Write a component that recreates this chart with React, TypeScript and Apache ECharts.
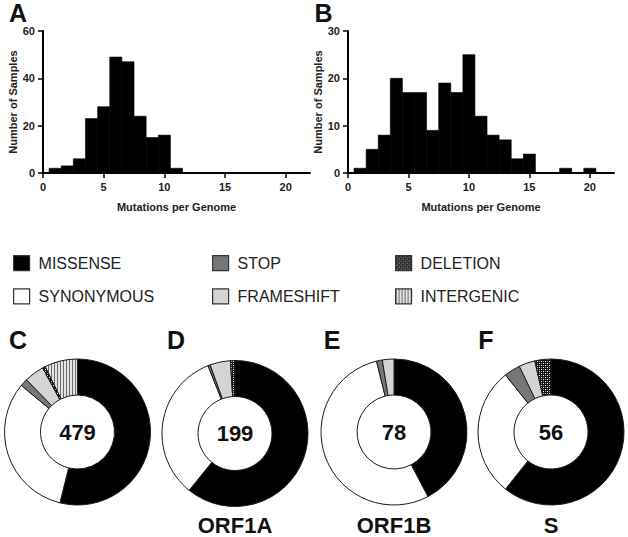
import React, { useEffect, useRef } from 'react';
import * as echarts from 'echarts';

// Histogram A
const binsA = [1, 2, 3, 4, 5, 6, 7, 8, 9, 10, 11];
const countsA = [2, 3, 6, 23, 28, 49, 47, 24, 15, 16, 2];
// Histogram B
const binsB = [1, 2, 3, 4, 5, 6, 7, 8, 9, 10, 11, 12, 13, 14, 15, 18, 20];
const countsB = [1, 5, 8, 20, 17, 17, 9, 19, 17, 25, 12, 8, 7, 3, 4, 1, 1];
const xTicks = [0, 5, 10, 15, 20];

const categories = ['MISSENSE', 'SYNONYMOUS', 'STOP', 'FRAMESHIFT', 'DELETION', 'INTERGENIC'];
const panelC = [258, 154, 8, 21, 3, 35];
const panelD = [121, 66, 1, 9, 2, 0];
const panelE = [33, 42, 1, 2, 0, 0];
const panelF = [34, 16, 2, 2, 2, 0];
const donutLetters = ['C', 'D', 'E', 'F'];
const donutTotals = ['479', '199', '78', '56'];
const geneLabels = ['', 'ORF1A', 'ORF1B', 'S'];

const FONT = 'Arial, "Liberation Sans", sans-serif';

function makePattern(w: number, h: number, draw: (ctx: CanvasRenderingContext2D) => void) {
  const c = document.createElement('canvas');
  c.width = w;
  c.height = h;
  const ctx = c.getContext('2d')!;
  draw(ctx);
  return { image: c.toDataURL(), imageWidth: w, imageHeight: h, repeat: 'repeat' };
}

export default function App() {
  const ref = useRef<HTMLDivElement>(null);
  useEffect(() => {
    if (!ref.current) return;
    const chart = echarts.init(ref.current, undefined, { renderer: 'svg' });

    const deletionPattern = makePattern(4, 4, (ctx) => {
      ctx.fillStyle = '#111111';
      ctx.fillRect(0, 0, 4, 4);
      ctx.fillStyle = '#ffffff';
      ctx.fillRect(1, 1, 1, 1);
      ctx.fillRect(3, 3, 1, 1);
      ctx.fillStyle = '#9a9a9a';
      ctx.fillRect(3, 1, 1, 1);
      ctx.fillRect(1, 3, 1, 1);
    });
    const intergenicPattern = makePattern(3, 3, (ctx) => {
      ctx.fillStyle = '#e4e4e4';
      ctx.fillRect(0, 0, 3, 3);
      ctx.fillStyle = '#6a6a6a';
      ctx.fillRect(0, 0, 1, 3);
    });

    const colors: any[] = ['#000000', '#ffffff', '#777777', '#d4d4d4', deletionPattern, intergenicPattern];

    const panels = [panelC, panelD, panelE, panelF];
    const centers = [
      [77.5, 432],
      [235, 433.5],
      [394, 432],
      [551, 432],
    ];

    const pieSeries = panels.map((vals, i) => ({
      type: 'pie',
      center: centers[i],
      radius: [37, 73],
      startAngle: 90,
      clockwise: true,
      silent: true,
      label: { show: false },
      labelLine: { show: false },
      emphasis: { disabled: true },
      itemStyle: { borderColor: '#1a1a1a', borderWidth: 1 },
      data: categories
        .map((name, k) => ({ name, value: vals[k], itemStyle: { color: colors[k] } }))
        .filter((d) => d.value > 0),
    }));

    const histRender = (params: any, api: any) => {
      const x = api.value(0);
      const y = api.value(1);
      const p0 = api.coord([x - 0.5, y]);
      const p1 = api.coord([x + 0.5, 0]);
      return {
        type: 'rect',
        shape: { x: p0[0], y: p0[1], width: p1[0] - p0[0], height: p1[1] - p0[1] },
        style: { fill: '#000', stroke: '#000', lineWidth: 0.6 },
      };
    };

    const axisCommon = {
      axisLine: { lineStyle: { color: '#000', width: 2 } },
      axisTick: { length: 5, lineStyle: { color: '#000', width: 1.5 } },
      axisLabel: { fontFamily: FONT, fontWeight: 'bold', fontSize: 11, color: '#222' },
      splitLine: { show: false },
    };

    const xAxis = (gridIndex: number) => ({
      type: 'value',
      gridIndex,
      min: 0,
      max: 22,
      interval: 5,
      ...axisCommon,
      axisTick: { ...axisCommon.axisTick, customValues: xTicks },
      axisLabel: { ...axisCommon.axisLabel, margin: 8, customValues: xTicks },
      name: 'Mutations per Genome',
      nameLocation: 'middle',
      nameGap: 28,
      nameTextStyle: { fontFamily: FONT, fontWeight: 'bold', fontSize: 11, color: '#222' },
    });
    const yAxis = (gridIndex: number, max: number, interval: number) => ({
      type: 'value',
      gridIndex,
      min: 0,
      max,
      interval,
      ...axisCommon,
      axisLabel: { ...axisCommon.axisLabel, margin: 8 },
      name: 'Number of Samples',
      nameLocation: 'middle',
      nameGap: 24,
      nameTextStyle: { fontFamily: FONT, fontWeight: 'bold', fontSize: 11, color: '#222' },
    });

    const legendCol = (left: number, data: string[]) => ({
      orient: 'vertical',
      left,
      top: 255,
      padding: 0,
      itemWidth: 16,
      itemHeight: 15,
      itemGap: 17,
      icon: 'rect',
      selectedMode: false,
      data,
      itemStyle: { borderColor: '#333', borderWidth: 1.2 },
      textStyle: {
        fontFamily: FONT,
        fontSize: 16,
        color: '#222',
        padding: [0, 0, 0, 4],
      },
    });

    const textEl = (text: string, x: number, y: number, size: number) => ({
      type: 'text',
      x,
      y,
      silent: true,
      style: {
        text,
        fontFamily: FONT,
        fontWeight: 'bold',
        fontSize: size,
        fill: '#111',
        textAlign: 'center',
        textVerticalAlign: 'middle',
      },
    });

    const graphics: any[] = [textEl('A', 18, 13, 25), textEl('B', 323.5, 13, 25)];
    const letterX = [18, 176, 332, 486];
    donutLetters.forEach((l, i) => graphics.push(textEl(l, letterX[i], 340, 25)));
    donutTotals.forEach((t, i) => graphics.push(textEl(t, centers[i][0], centers[i][1], 22)));
    geneLabels.forEach((g, i) => {
      if (g) graphics.push(textEl(g, centers[i][0], 525, 22));
    });

    chart.setOption({
      animation: false,
      backgroundColor: '#fff',
      grid: [
        { left: 43, top: 31, width: 267, height: 142 },
        { left: 348, top: 31, width: 266, height: 142 },
      ],
      xAxis: [xAxis(0), xAxis(1)],
      yAxis: [yAxis(0, 60, 20), yAxis(1, 30, 10)],
      legend: [
        legendCol(13, ['MISSENSE', 'SYNONYMOUS']),
        legendCol(212, ['STOP', 'FRAMESHIFT']),
        legendCol(395, ['DELETION', 'INTERGENIC']),
      ],
      series: [
        {
          type: 'custom',
          xAxisIndex: 0,
          yAxisIndex: 0,
          silent: true,
          renderItem: histRender,
          data: binsA.map((b, i) => [b, countsA[i]]),
        },
        {
          type: 'custom',
          xAxisIndex: 1,
          yAxisIndex: 1,
          silent: true,
          renderItem: histRender,
          data: binsB.map((b, i) => [b, countsB[i]]),
        },
        ...pieSeries,
      ],
      graphic: graphics,
    });

    return () => chart.dispose();
  }, []);

  return <div ref={ref} style={{ width: 628, height: 537, position: 'absolute', left: 0, top: 0 }} />;
}
